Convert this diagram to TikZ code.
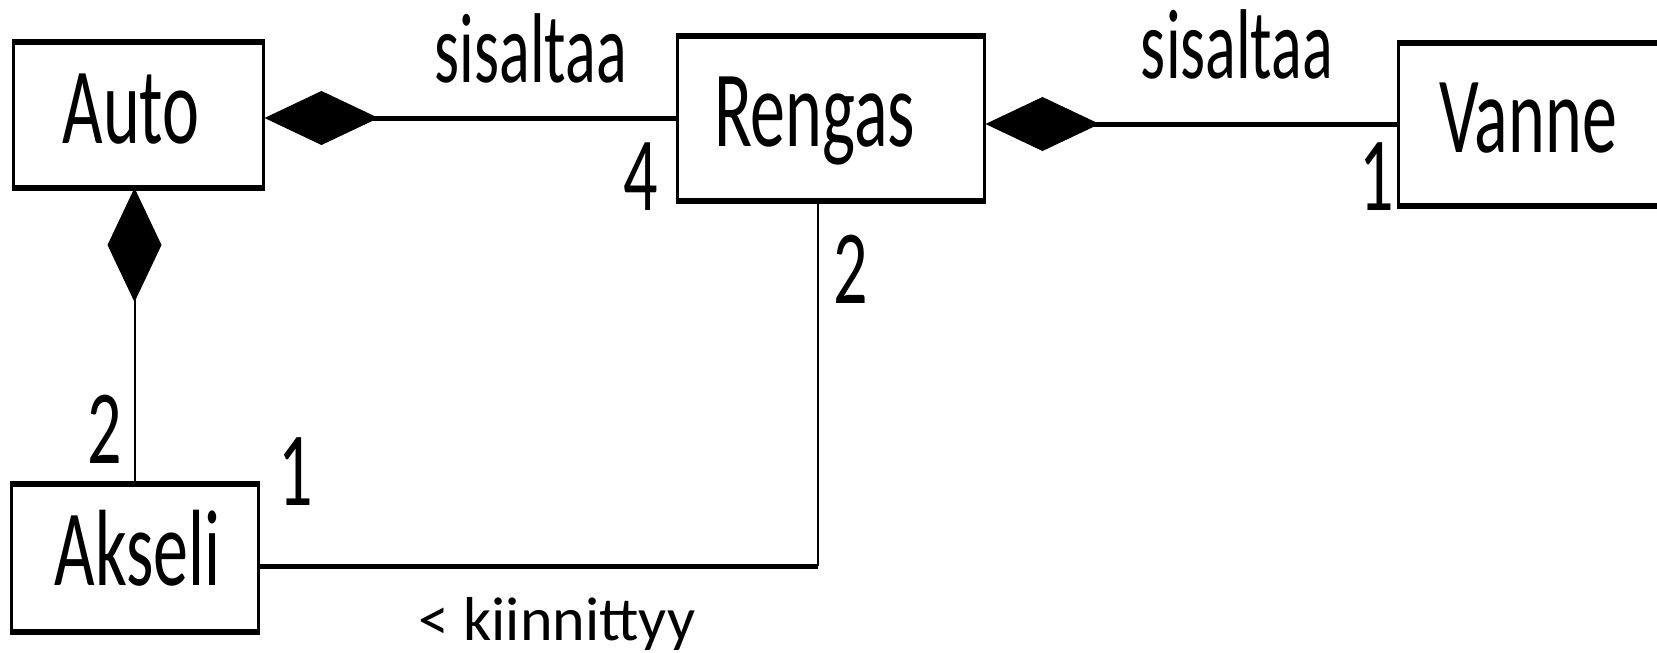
\documentclass[tikz,border=0pt]{standalone}
\usepackage{fontspec}
\setmainfont{Carlito}
\usepackage{graphicx}
\usetikzlibrary{arrows.meta}

\newcommand{\tall}[1]{\scalebox{1}[1.55]{#1}}

\tikzset{
  classbox/.style={draw, line width=3pt, inner sep=0pt, text height=70pt, text depth=14pt,
    font=\fontsize{70}{84}\selectfont},
  hline/.style={line width=5pt},
  vline/.style={line width=2pt},
  whole/.style={-{Diamond[length=114pt, width=54pt, line width=1pt]}},
  mult/.style={anchor=base, inner sep=0pt, font=\fontsize{68}{80}\selectfont},
}

\begin{document}
\begin{tikzpicture}[x=1pt, y=-1pt]
\useasboundingbox (0,0) rectangle (1657,653);
\clip (0,0) rectangle (1657,653);

\node[classbox, minimum width=250pt, minimum height=143pt] (auto) at (138,115) {\tall{Auto}\hspace*{14pt}};
\node[classbox, minimum width=307pt, minimum height=162pt] (rengas) at (830.5,118) {\tall{Rengas}\hspace*{32pt}};
\node[classbox, minimum width=260pt, minimum height=160pt] (vanne) at (1528,124) {\tall{Vanne}};
\node[classbox, minimum width=247pt, minimum height=145pt] (akseli) at (134.5,557.5) {\hspace*{6pt}\tall{Akseli}};
\foreach \n in {auto,rengas,vanne,akseli}
  \draw[line width=6pt] (\n.north west) -- (\n.north east) (\n.south west) -- (\n.south east);

\draw[hline, whole] (rengas.west) -- (rengas.west -| auto.east);
\draw[hline, whole] (vanne.west) -- (vanne.west -| rengas.east);
\draw[vline, whole] (akseli.north) -- (akseli.north |- auto.south);
\coordinate (knee) at (818,566);
\draw[hline] (akseli.east |- knee) -- (knee);
\draw[vline] (knee) -- (knee |- rengas.south);

\node[mult, font=\fontsize{64}{76}\selectfont] (sis1) at (531,82) {\tall{sisaltaa}};
\node[mult, font=\fontsize{64}{76}\selectfont] (sis2) at (1237,78) {\tall{sisaltaa}};
\node[mult] (m4) at (641,210) {\tall{4}};
\node[mult] (m1v) at (1376.5,210) {\tall{1}};
\node[mult] (m2r) at (850.5,303) {\tall{2}};
\node[mult] (m2a) at (105,463) {\tall{2}};
\node[mult] (m1a) at (296,505) {\tall{1}};
\node[anchor=base, inner sep=0pt, font=\fontsize{62}{74}\selectfont] (kiin) at (557,640) {< kiinnittyy};
\end{tikzpicture}
\end{document}
